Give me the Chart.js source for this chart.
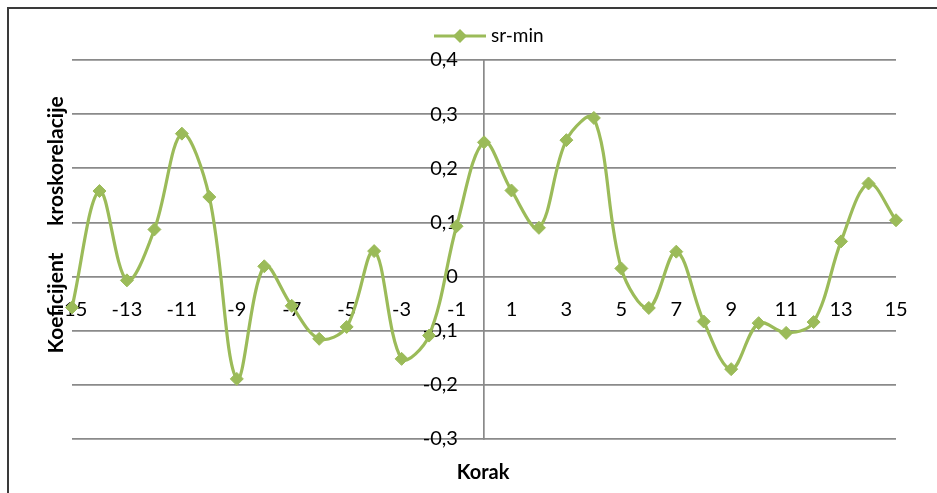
<!DOCTYPE html>
<html>
<head>
<meta charset="utf-8">
<script src="https://cdn.jsdelivr.net/npm/chart.js@4/dist/chart.umd.min.js"></script>
<style>
  html, body { margin: 0; padding: 0; background: #fff; }
  #wrap { position: relative; width: 937px; height: 493px; overflow: hidden; }
  #frame { position: absolute; left: 7px; top: 7px; width: 1000px; height: 600px;
           border-left: 2px solid #3a3a3a; border-top: 2px solid #3a3a3a; box-sizing: border-box; }
  canvas { position: absolute; left: 0; top: 0; }
</style>
</head>
<body>
<div id="wrap">
  <div id="frame"></div>
  <canvas id="c" width="937" height="493"></canvas>
</div>
<script>
// Lag steps (Korak) and cross-correlation coefficients for sr-min
const steps = [-15, -14, -13, -12, -11, -10, -9, -8, -7, -6, -5, -4, -3, -2, -1,
               0, 1, 2, 3, 4, 5, 6, 7, 8, 9, 10, 11, 12, 13, 14, 15];
const srMin = [-0.057, 0.158, -0.007, 0.087, 0.264, 0.147, -0.189, 0.019, -0.054, -0.115,
               -0.093, 0.047, -0.152, -0.109, 0.093,
               0.248, 0.159, 0.090, 0.252, 0.293, 0.015, -0.058, 0.046, -0.083, -0.171,
               -0.086, -0.104, -0.084, 0.065, 0.172, 0.104];

const xTicks = [-15, -13, -11, -9, -7, -5, -3, -1, 1, 3, 5, 7, 9, 11, 13, 15];
const yTicks = [-0.3, -0.2, -0.1, 0, 0.1, 0.2, 0.3, 0.4];
const yTickLabels = ['-0,3', '-0,2', '-0,1', '0', '0,1', '0,2', '0,3', '0,4'];

const seriesName = 'sr-min';
const xTitle = 'Korak';
const yTitleWords = ['Koeficijent', 'kroskorelacije'];

const GREEN = '#9BBB59';
const GRID = '#8a8a8a';
const FONT = 'Lato, "Open Sans", sans-serif';

// legend (line + diamond) and axis titles
const decorations = {
  id: 'decorations',
  afterDraw(chart) {
    const ctx = chart.ctx;
    ctx.save();
    // legend
    ctx.strokeStyle = GREEN;
    ctx.lineWidth = 3;
    ctx.beginPath();
    ctx.moveTo(434, 36);
    ctx.lineTo(486, 36);
    ctx.stroke();
    ctx.fillStyle = GREEN;
    ctx.beginPath();
    ctx.moveTo(460 - 7, 36);
    ctx.lineTo(460, 36 - 7);
    ctx.lineTo(460 + 7, 36);
    ctx.lineTo(460, 36 + 7);
    ctx.closePath();
    ctx.fill();
    ctx.fillStyle = '#000';
    ctx.font = '19px ' + FONT;
    ctx.textAlign = 'left';
    ctx.textBaseline = 'middle';
    ctx.fillText(seriesName, 491, 36);

    // x title
    ctx.font = 'bold 20px ' + FONT;
    ctx.textAlign = 'center';
    ctx.fillText(xTitle, 483, 473);

    // y title (rotated)
    ctx.font = 'bold 21px ' + FONT;
    ctx.translate(56, 0);
    ctx.rotate(-Math.PI / 2);
    ctx.fillText(yTitleWords[0], -303, 0);
    ctx.fillText(yTitleWords[1], -161, 0);
    ctx.restore();
  }
};

new Chart(document.getElementById('c'), {
  type: 'line',
  data: {
    datasets: [{
      label: seriesName,
      data: steps.map((s, i) => ({ x: s, y: srMin[i] })),
      borderColor: GREEN,
      backgroundColor: GREEN,
      borderWidth: 3.2,
      tension: 0.35,
      pointStyle: 'rectRot',
      pointRadius: 6.5,
      pointBorderWidth: 1,
      pointBackgroundColor: GREEN,
      pointBorderColor: GREEN,
      clip: false
    }]
  },
  options: {
    responsive: false,
    animation: false,
    devicePixelRatio: 1,
    layout: { padding: { left: 72, right: 41, top: 60, bottom: 54 } },
    plugins: { legend: { display: false }, tooltip: { enabled: false } },
    scales: {
      x: {
        type: 'linear',
        min: -15,
        max: 15,
        position: { y: 0 },
        afterBuildTicks: (s) => { s.ticks = xTicks.map(v => ({ value: v })); },
        grid: { display: false, drawTicks: false },
        border: { display: false },
        ticks: {
          padding: 21,
          maxRotation: 0,
          autoSkip: false,
          color: '#000',
          font: { family: FONT, size: 20 },
          callback: (v) => String(v)
        }
      },
      y: {
        type: 'linear',
        min: -0.3,
        max: 0.4,
        position: { x: 0 },
        afterBuildTicks: (s) => { s.ticks = yTicks.map(v => ({ value: v })); },
        grid: { display: true, color: GRID, lineWidth: 1.7, drawTicks: false },
        border: { display: true, color: GRID, width: 1.7 },
        ticks: { display: false }
      },
      yl: {
        type: 'linear',
        min: -0.3,
        max: 0.4,
        position: { x: -0.95 },
        afterBuildTicks: (s) => { s.ticks = yTicks.map(v => ({ value: v })); },
        grid: { display: false, drawTicks: false },
        border: { display: false },
        ticks: {
          padding: 0,
          color: '#000',
          font: { family: FONT, size: 20 },
          callback: (v, i) => yTickLabels[i]
        }
      }
    }
  },
  plugins: [decorations]
});
</script>
</body>
</html>
